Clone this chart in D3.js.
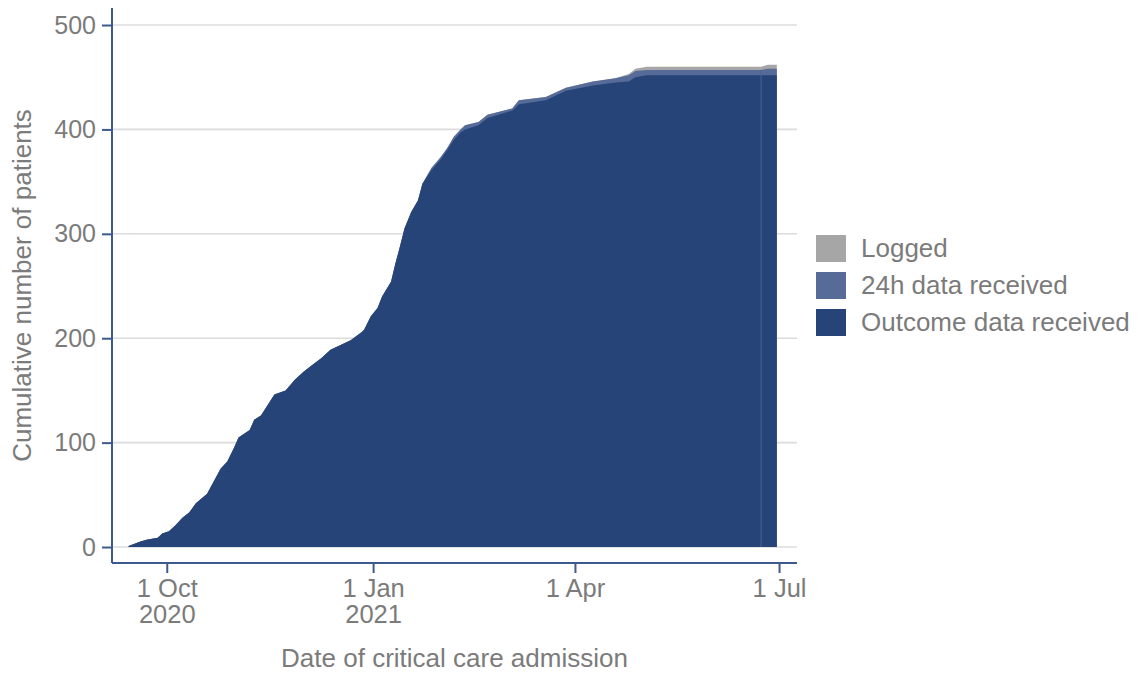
<!DOCTYPE html>
<html>
<head>
<meta charset="utf-8">
<script src="https://cdn.jsdelivr.net/npm/d3@7"></script>
<style>
  html, body { margin: 0; padding: 0; background: #ffffff; }
  svg text { font-family: "Liberation Sans", Arial, Helvetica, sans-serif; }
</style>
</head>
<body>
<svg id="chart" width="1140" height="675"></svg>
<script>
const dates = ["2020-09-14","2020-09-19","2020-09-22","2020-09-27","2020-09-29","2020-10-02","2020-10-05","2020-10-08","2020-10-11","2020-10-14","2020-10-19","2020-10-22","2020-10-25","2020-10-28","2020-10-31","2020-11-02","2020-11-07","2020-11-09","2020-11-12","2020-11-15","2020-11-18","2020-11-23","2020-11-27","2020-12-01","2020-12-04","2020-12-09","2020-12-13","2020-12-18","2020-12-22","2020-12-27","2020-12-28","2020-12-31","2021-01-03","2021-01-05","2021-01-09","2021-01-11","2021-01-13","2021-01-15","2021-01-18","2021-01-21","2021-01-23","2021-01-27","2021-01-31","2021-02-03","2021-02-06","2021-02-09","2021-02-11","2021-02-17","2021-02-21","2021-03-04","2021-03-07","2021-03-19","2021-03-28","2021-04-09","2021-04-19","2021-04-25","2021-04-28","2021-05-03","2021-06-23","2021-06-26","2021-06-30"];
const outcomeReceived = [1,5,7,9,13,15,21,28,33,42,51,63,75,82,95,105,112,122,126,136,146,150,160,168,173,181,189,194,198,206,208,221,229,240,254,272,288,305,321,332,348,361,371,380,390,397,400,404,411,418,424,428,437,442,445,446,450,452,452,452,452];
const data24hReceived = [1,5,7,9,13,15,21,28,33,42,51,63,75,82,95,105,112,122,126,136,146,150,160,168,173,181,189,194,198,206,208,221,229,240,254,272,288,305,321,332,348,363,373,382,393,400,404,407,414,420,428,431,440,446,449,452,456,457,457,458,458];
const logged = [1,5,7,9,13,15,21,28,33,42,51,63,75,82,95,105,112,122,126,136,146,150,160,168,173,181,189,194,198,206,208,221,229,240,254,272,288,305,321,332,348,363,373,382,393,400,404,407,414,420,428,431,440,446,449,453,458,460,460,462,462];

const seriesNames = ["Logged","24h data received","Outcome data received"];
const seriesColors = ["#a6a6a6","#566b98","#264478"];
const yTicks = [0,100,200,300,400,500];
const xTickDates = ["2020-10-01","2021-01-01","2021-04-01","2021-07-01"];
const xTickLabels = [["1 Oct","2020"],["1 Jan","2021"],["1 Apr",""],["1 Jul",""]];
const seamDates = ["2021-06-23"];
const xTitle = "Date of critical care admission";
const yTitle = "Cumulative number of patients";

const parse = d3.utcParse("%Y-%m-%d");
const rows = dates.map((d,i)=>({date: parse(d), vals:[logged[i], data24hReceived[i], outcomeReceived[i]]}));

const svg = d3.select("#chart");
const axisColor = "#3d5a8e";
const textColor = "#7b7b7b";
const FS = 26;
const L = 112, R = 797, T = 8, B = 563;

const x = d3.scaleUtc()
  .domain([new Date(Date.UTC(2020,8,6,14,0)), new Date(Date.UTC(2021,6,9,0,0))])
  .range([L, R]);
const y = d3.scaleLinear().domain([-15.3, 516.3]).range([B, T]);

// gridlines
svg.append("g").selectAll("line").data(yTicks).join("line")
  .attr("x1", L + 1).attr("x2", R)
  .attr("y1", d=>y(d)).attr("y2", d=>y(d))
  .attr("stroke", "#dcdcdc").attr("stroke-width", 1.6);

// areas
seriesNames.forEach((name, k) => {
  const area = d3.area()
    .x(d=>x(d.date)).y0(y(0)).y1(d=>y(d.vals[k]))
    .curve(d3.curveLinear);
  svg.append("path").datum(rows)
    .attr("d", area)
    .attr("fill", seriesColors[k]);
});

// faint seam line inside the final block
svg.append("g").selectAll("line").data(seamDates.map(parse)).join("line")
  .attr("x1", d=>x(d)).attr("x2", d=>x(d))
  .attr("y1", y(0)).attr("y2", d=>{
    const r = rows.find(o=>+o.date===+d); return y(r ? r.vals[1] : 0);
  })
  .attr("stroke", "#4a6396").attr("stroke-width", 1);

// axes
const gy = svg.append("g").attr("transform", `translate(${L},0)`)
  .call(d3.axisLeft(y).tickValues(yTicks).tickSize(10).tickPadding(6).tickFormat(d3.format("d")));
gy.select(".domain").attr("d", `M0,${T}V${B}`);
const gx = svg.append("g").attr("transform", `translate(0,${B})`)
  .call(d3.axisBottom(x).tickValues(xTickDates.map(parse)).tickSize(10).tickFormat(""));
gx.select(".domain").attr("d", `M${L},0H${R}`);
[gx, gy].forEach(g => {
  g.select(".domain").attr("stroke", axisColor).attr("stroke-width", 2);
  g.selectAll(".tick line").attr("stroke", axisColor).attr("stroke-width", 2);
});
gy.selectAll(".tick text").attr("fill", textColor).attr("font-size", 25)
  .attr("font-family", "Liberation Sans, Arial, sans-serif");

// x tick labels two lines
gx.selectAll(".tick").each(function(d, i) {
  const t = d3.select(this).append("text")
    .attr("fill", textColor).attr("font-size", 25.5).attr("text-anchor", "middle")
    .attr("font-family", "Liberation Sans, Arial, sans-serif");
  xTickLabels[i].forEach((s, j) => {
    if (s) t.append("tspan").attr("x", 0).attr("y", 34 + j * 26).text(s);
  });
});

// titles
svg.append("text").attr("x", (L+R)/2).attr("y", 667).attr("text-anchor","middle")
  .attr("fill", textColor).attr("font-size", FS).text(xTitle);
svg.append("text").attr("transform", `translate(31,${(T+B)/2}) rotate(-90)`)
  .attr("text-anchor","middle").attr("fill", textColor).attr("font-size", FS).text(yTitle);

// legend
const lg = svg.append("g").attr("transform", "translate(816,235)");
seriesNames.forEach((name, k) => {
  const g = lg.append("g").attr("transform", `translate(0,${k*37})`);
  g.append("rect").attr("width", 30).attr("height", 27).attr("fill", seriesColors[k]);
  g.append("text").attr("x", 45).attr("y", 22).attr("fill", textColor)
    .attr("font-size", FS).text(name);
});
</script>
</body>
</html>
